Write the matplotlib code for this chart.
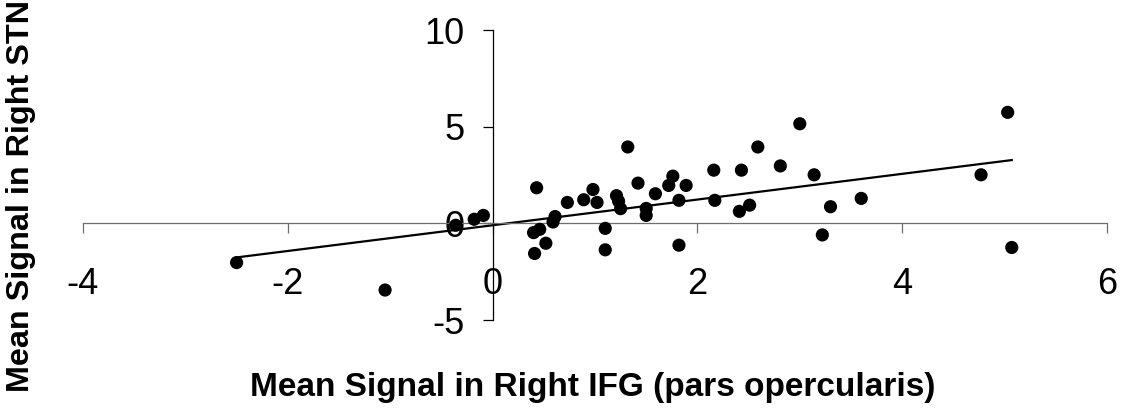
import matplotlib
matplotlib.use("Agg")
import matplotlib.pyplot as plt
import numpy as np

# Mean signal per subject: right IFG (pars opercularis) vs right STN
ifg_signal = [-2.50, -1.05, -0.36, -0.18, -0.09, 0.40, 0.46, 0.52, 0.41, 0.43,
              0.61, 0.59, 0.73, 0.89, 0.98, 1.02, 1.10, 1.10, 1.21, 1.23,
              1.25, 1.32, 1.42, 1.50, 1.50, 1.59, 1.72, 1.76, 1.89, 1.82,
              1.82, 2.16, 2.17, 2.43, 2.41, 2.51, 2.59, 2.81, 3.00, 3.14,
              3.30, 3.22, 3.60, 4.77, 5.03, 5.07]
stn_signal = [-2.03, -3.45, -0.10, 0.21, 0.41, -0.48, -0.31, -1.03, -1.56, 1.84,
              0.35, 0.07, 1.08, 1.22, 1.75, 1.08, -0.26, -1.37, 1.43, 1.15,
              0.76, 3.95, 2.08, 0.77, 0.41, 1.53, 1.96, 2.44, 1.96, 1.19,
              -1.13, 2.75, 1.19, 2.75, 0.62, 0.94, 3.95, 2.97, 5.15, 2.51,
              0.86, -0.60, 1.29, 2.51, 5.74, -1.25]

# Linear trend line parameters
trend_slope = 0.665
trend_intercept = -0.10

x_ticks = [-4, -2, 0, 2, 4, 6]
y_ticks = [-5, 0, 5, 10]

plt.rcParams["font.family"] = ["Liberation Sans", "DejaVu Sans"]

fig = plt.figure(figsize=(11.29, 4.08), dpi=100)
W, H = 1129, 408
ax = fig.add_axes([83 / W, 1 - 320 / H, 1024 / W, 290 / H])

ax.scatter(ifg_signal, stn_signal, s=90, color="black", edgecolors="none", zorder=3)

xs = np.array([min(ifg_signal), max(ifg_signal)])
ax.plot(xs, trend_slope * xs + trend_intercept, color="black", lw=1.6, zorder=2)

ax.set_xlim(-4, 6)
ax.set_ylim(-5, 10)
ax.set_xticks(x_ticks)
ax.set_yticks(y_ticks)
ax.set_xticklabels([str(t) for t in x_ticks])
ax.set_yticklabels([str(t) for t in y_ticks])

for side in ("top", "right"):
    ax.spines[side].set_visible(False)
ax.spines["left"].set_position(("data", 0))
ax.spines["bottom"].set_position(("data", 0))
ax.spines["left"].set_linewidth(0.9)
ax.spines["left"].set_color("black")
ax.spines["bottom"].set_linewidth(0.9)
ax.spines["bottom"].set_color("#6e6e6e")

ax.tick_params(axis="x", direction="out", length=7.5, width=0.9, color="#6e6e6e",
               pad=24, labelsize=26)
ax.tick_params(axis="y", direction="out", length=7.5, width=0.9, color="black",
               pad=13, labelsize=26)

ax.set_xlabel("Mean Signal in Right IFG (pars opercularis)", fontsize=24,
              fontweight="bold")
ax.xaxis.label.set_va("baseline")
ax.xaxis.set_label_coords(0.498, (320 - 396) / 290)

ax.set_ylabel("Mean Signal in Right STN", fontsize=23.3, fontweight="bold")
ax.yaxis.label.set_va("center")
ax.yaxis.set_label_coords((21 - 83) / 1024, (320 - 196) / 290)

ax.patch.set_visible(False)
fig.savefig("out.png", dpi=100, facecolor="white")
